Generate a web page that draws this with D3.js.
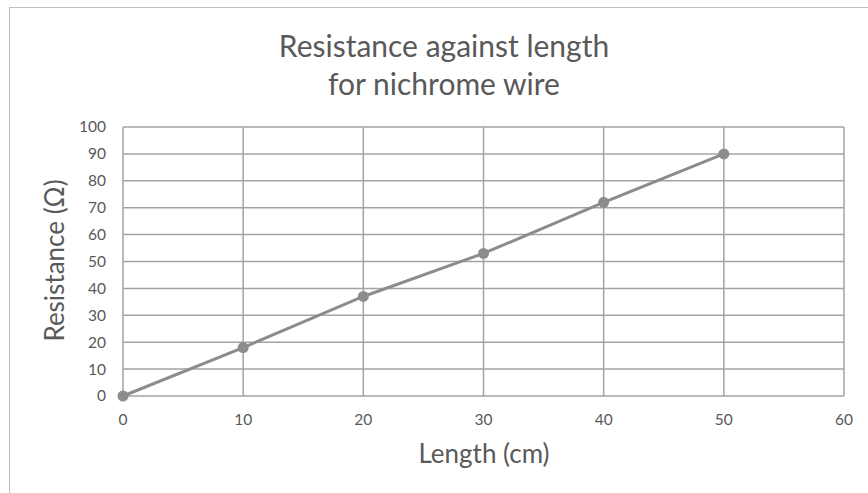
<!DOCTYPE html>
<html><head><meta charset="utf-8">
<script src="https://cdn.jsdelivr.net/npm/d3@7"></script>
<style>body{margin:0;background:#fff}svg{display:block}</style>
</head><body>
<script>
const lengths = [0, 10, 20, 30, 40, 50];
const resistances = [0, 18, 37, 53, 72, 90];
const xTicks = [0, 10, 20, 30, 40, 50, 60];
const yTicks = [0, 10, 20, 30, 40, 50, 60, 70, 80, 90, 100];
const titleLines = ["Resistance against length", "for nichrome wire"];
const xLabel = "Length (cm)";
const yLabel = "Resistance (Ω)";

const W = 868, H = 493;
const font = "Lato, 'Open Sans', sans-serif";
const svg = d3.select("body").append("svg").attr("width", W).attr("height", H);
svg.append("rect").attr("x", 9.5).attr("y", 7.5).attr("width", W + 20).attr("height", H + 20)
  .attr("fill", "#fff").attr("stroke", "#bfbfbf").attr("stroke-width", 1);

const x = d3.scaleLinear().domain([0, 60]).range([123, 844]);
const y = d3.scaleLinear().domain([0, 100]).range([396, 127]);
const gridC = "#a3a3a3";

const g = svg.append("g");
g.selectAll("line.h").data(yTicks).join("line").attr("class", "h")
  .attr("x1", x(0)).attr("x2", x(60)).attr("y1", d => y(d)).attr("y2", d => y(d))
  .attr("stroke", gridC).attr("stroke-width", 1.5);
g.selectAll("line.v").data(xTicks).join("line").attr("class", "v")
  .attr("y1", y(0)).attr("y2", y(100)).attr("x1", d => x(d)).attr("x2", d => x(d))
  .attr("stroke", gridC).attr("stroke-width", 1.5);

svg.selectAll("text.yt").data(yTicks).join("text").attr("class", "yt")
  .attr("x", x(0) - 17).attr("y", d => y(d)).attr("dy", "0.35em").attr("text-anchor", "end")
  .attr("font-family", font).attr("font-size", 15.5).attr("fill", "#595959").text(d => d);
svg.selectAll("text.xt").data(xTicks).join("text").attr("class", "xt")
  .attr("x", d => x(d)).attr("y", 425).attr("text-anchor", "middle")
  .attr("font-family", font).attr("font-size", 15.5).attr("fill", "#595959").text(d => d);

const pts = lengths.map((l, i) => [l, resistances[i]]);
svg.append("path").datum(pts)
  .attr("d", d3.line().x(d => x(d[0])).y(d => y(d[1])))
  .attr("fill", "none").attr("stroke", "#8c8c8c").attr("stroke-width", 3);
svg.selectAll("circle").data(pts).join("circle")
  .attr("cx", d => x(d[0])).attr("cy", d => y(d[1])).attr("r", 5.5).attr("fill", "#8c8c8c");

svg.selectAll("text.title").data(titleLines).join("text").attr("class", "title")
  .attr("x", 444).attr("y", (d, i) => 57 + i * 38).attr("text-anchor", "middle")
  .attr("font-family", font).attr("font-size", 30).attr("fill", "#595959").text(d => d);

svg.append("text").attr("x", 484).attr("y", 463).attr("text-anchor", "middle")
  .attr("font-family", font).attr("font-size", 26).attr("fill", "#595959").text(xLabel);
svg.append("text").attr("transform", `translate(64,260.5) rotate(-90)`)
  .attr("text-anchor", "middle")
  .attr("font-family", font).attr("font-size", 26).attr("fill", "#595959").text(yLabel);
</script>
</body></html>
